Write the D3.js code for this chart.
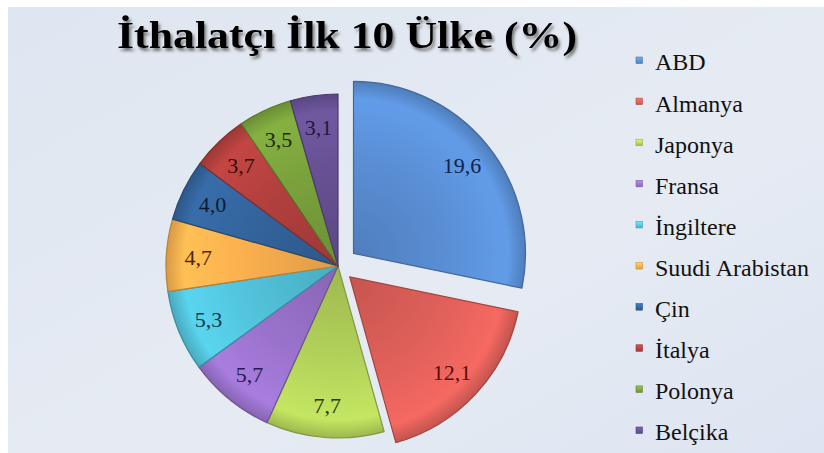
<!DOCTYPE html>
<html><head><meta charset="utf-8">
<script src="https://cdn.jsdelivr.net/npm/d3@7/dist/d3.min.js"></script>
<style>html,body{margin:0;padding:0;background:#fff;}svg{display:block;}</style>
</head><body>
<script>
const categories = ["ABD","Almanya","Japonya","Fransa","İngiltere","Suudi Arabistan","Çin","İtalya","Polonya","Belçika"];
const values = [19.6,12.1,7.7,5.7,5.3,4.7,4.0,3.7,3.5,3.1];
const labels = ["19,6","12,1","7,7","5,7","5,3","4,7","4,0","3,7","3,5","3,1"];
const explode = [20,16,0,0,0,0,0,0,0,0];
const colors = ["#5a8fd5","#e0605a","#b3d25a","#9a72cc","#52c3db","#fbb04e","#33649c","#b2403d","#7aa23c","#675194"];
const labelColors = ["#10234a","#5a0d0a","#2a3a0a","#2c1a4a","#0e3a48","#4a2a05","#0c1c34","#3a0a08","#1c2a08","#22183a"];
const title = "İthalatçı İlk 10 Ülke (%)";

const SERIF = "'Liberation Serif', 'Times New Roman', Tinos, Times, 'DejaVu Serif', serif";
const W = 824, H = 453;
const svg = d3.select("body").append("svg").attr("width", W).attr("height", H);
const defs = svg.append("defs");

const bg = defs.append("linearGradient").attr("id","bg").attr("x1",0).attr("y1",0).attr("x2",1).attr("y2",1);
bg.append("stop").attr("offset","0%").attr("stop-color","#dfe6f1");
bg.append("stop").attr("offset","60%").attr("stop-color","#e6ebf3");
bg.append("stop").attr("offset","100%").attr("stop-color","#dde5f2");
svg.append("rect").attr("x",8).attr("y",7).attr("width",W-8).attr("height",H-7).attr("fill","url(#bg)");

const sh = defs.append("filter").attr("id","sh").attr("x","-10%").attr("y","-30%").attr("width","120%").attr("height","160%");
sh.append("feDropShadow").attr("dx",2).attr("dy",3).attr("stdDeviation",1.6).attr("flood-color","#555").attr("flood-opacity",0.75);

colors.forEach((c,i)=>{
  const g = defs.append("radialGradient").attr("id","g"+i).attr("gradientUnits","userSpaceOnUse")
    .attr("cx",0).attr("cy",0).attr("r",175);
  g.append("stop").attr("offset","0%").attr("stop-color", d3.color(c).darker(0.35));
  g.append("stop").attr("offset","55%").attr("stop-color", c);
  g.append("stop").attr("offset","88%").attr("stop-color", d3.color(c).brighter(0.25));
  g.append("stop").attr("offset","100%").attr("stop-color", d3.color(c).darker(0.5));
  const lg = defs.append("linearGradient").attr("id","l"+i).attr("x1",0).attr("y1",0).attr("x2",0).attr("y2",1);
  lg.append("stop").attr("offset","0%").attr("stop-color", d3.color(c).brighter(0.6));
  lg.append("stop").attr("offset","100%").attr("stop-color", d3.color(c).darker(0.3));
});

// title
svg.append("text").attr("x",117).attr("y",48)
  .attr("font-family",SERIF).attr("font-weight","bold").attr("font-size",38)
  .attr("textLength",460).attr("lengthAdjust","spacingAndGlyphs")
  .attr("fill","#000").attr("filter","url(#sh)").text(title);

// pie
const R = 172;
const cx = 338, cy = 266;
const pie = d3.pie().sort(null).value(d=>d.v).startAngle(0).endAngle(2*Math.PI);
const data = categories.map((c,i)=>({c, v: values[i], i}));
const arcs = pie(data);
const arc = d3.arc().innerRadius(0).outerRadius(R);
const labelArc = d3.arc().innerRadius(140).outerRadius(140);

const pg = svg.append("g").attr("transform",`translate(${cx},${cy})`);
const slices = pg.selectAll("g.s").data(arcs).join("g").attr("class","s")
  .attr("transform", d=>{
    const a = (d.startAngle + d.endAngle)/2;
    const o = explode[d.data.i];
    return `translate(${Math.sin(a)*o},${-Math.cos(a)*o})`;
  });
slices.append("path").attr("d", arc)
  .attr("fill", d=>`url(#g${d.data.i})`)
  .attr("stroke", d=>d3.color(colors[d.data.i]).darker(0.9))
  .attr("stroke-width",1.2).attr("stroke-linejoin","round");
slices.append("text")
  .attr("transform", d=>`translate(${labelArc.centroid(d)})`)
  .attr("text-anchor","middle").attr("dy","0.35em")
  .attr("font-family",SERIF).attr("font-size",22)
  .attr("fill", d=>labelColors[d.data.i])
  .text(d=>labels[d.data.i]);

// legend
const ly = d3.scalePoint().domain(categories).range([62, 432]);
const lg = svg.append("g");
const items = lg.selectAll("g").data(categories).join("g")
  .attr("transform", d=>`translate(636,${ly(d)})`);
items.append("rect").attr("x",0).attr("y",-5).attr("width",6.5).attr("height",6.5)
  .attr("fill",(d,i)=>`url(#l${i})`).attr("stroke",(d,i)=>d3.color(colors[i]).darker(0.6)).attr("stroke-width",0.6);
items.append("text").attr("x",19).attr("y",0).attr("dy","0.35em")
  .attr("font-family",SERIF).attr("font-size",24).attr("fill","#111")
  .text(d=>d);
</script>
</body></html>
